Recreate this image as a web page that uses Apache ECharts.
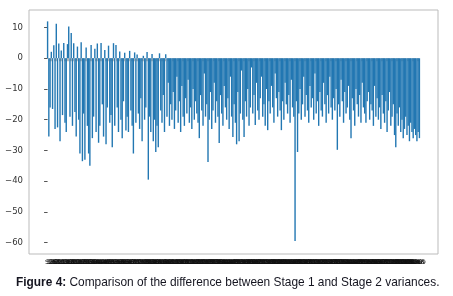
<!DOCTYPE html>
<html><head><meta charset="utf-8">
<script src="https://cdn.jsdelivr.net/npm/echarts@6/dist/echarts.min.js"></script>
<style>html,body{margin:0;padding:0;background:#fff}#c{width:453px;height:296px}</style>
</head><body><div id="c"></div>
<script>
const differences = [
 12, -25.5, -16, 2.1, -16.5, 4.2, -23, 11.2, -22.5, 4.8,
 -27, 2.5, -18.5, 5, -21, -24, 4.6, 10.3, -19, 8.2,
 -22, 4.9, -17.5, -25.5, 3.8, -20, -31, 5.2, -33.5, -18,
 -33, 3.5, -22, -31, -35, 4.3, -26, -19, 3.1, -24,
 4.8, -27.5, -22, 5, -15, -25.5, 2.7, -28, -16, 4.1,
 -21, -18.5, -29, 4.9, -22, 4.3, -16, -24, 2.2, -20,
 -26, -14, 1.8, -23.5, -19, -24, 2.4, -17, -22, -31,
 1.9, -21, 1.2, -18, -23, -13, -27, 0.8, -20, -16,
 2, -39.5, -19, -24, 1.4, -27, -20, -30.5, -22, -29,
 1.6, -17, -21, -12, -24, 1.3, -19, -8, -22, -15,
 -20, -11, -23, -17, -6, -21, -14, -24, -9, -19,
 -22, -13, -18, -7, -21, -16, -23, -10, -20, -14,
 -18, -21, -26, -12, -17, -22, -5, -19, -15, -33.8,
 -20, -11, -23, -17, -8, -21, -14, -19, -27.6, -12,
 -18, -22, -9, -16, -20, -13, -23, -6, -19, -25.6,
 -15, -21, -28, -11, -27, -18, -4, -20, -25.6, -14,
 -19, -10, -22, -16, -3, -18, -12, -21.7, -8, -17,
 -20, -13, -6, -19, -15, -22, -10, -23.4, -14, -18,
 -9, -16, -21, -5, -13, -19, -11, -17, -23.4, -14,
 -20, -8, -15, -18, -12, -21, -7, -16, -19, -59.5,
 -14, -30.5, -18, -10, -20, -15, -6, -19, -12, -17,
 -21, -9, -16, -13, -20, -5, -18, -14, -22, -11,
 -17, -19, -8, -15, -21, -12, -18, -6, -16, -20,
 -13, -17, -10, -29.8, -15, -19, -7, -14, -21, -11,
 -18, -16, -9, -20, -26, -13, -17, -22, -10, -15,
 -19, -12, -21, -8, -16, -18, -21, -14, -11, -20,
 -15, -17, -22, -9, -19, -13, -20, -16, -23, -12,
 -18, -21, -14, -24, -17, -11, -22, -19, -15, -25,
 -29, -18, -22, -16, -24, -20, -26, -23, -19, -25,
 -22, -27, -21, -24, -26, -23, -25, -27, -24, -26
];
const categories = differences.map((_, i) => 'S' + (i + 1));
const yTicks = [-60, -50, -40, -30, -20, -10, 0, 10];
const captionBold = 'Figure 4:';
const captionText = ' Comparison of the difference between Stage 1 and Stage 2 variances.';

const n = differences.length;
const idx = categories.map((_, i) => i);
const chart = echarts.init(document.getElementById('c'), null, {renderer: 'canvas'});
chart.setOption({
  animation: false,
  backgroundColor: '#fff',
  title: {
    text: '{b|' + captionBold + '}' + captionText,
    left: 11, top: 272,
    textStyle: {
      fontFamily: 'Liberation Sans', fontSize: 11.9, fontWeight: 'normal', color: '#151520',
      rich: { b: { fontFamily: 'Liberation Sans', fontSize: 11.9, fontWeight: 'bold', color: '#151520' } }
    }
  },
  grid: { left: 29, right: 15, top: 10, bottom: 42, show: true, borderColor: '#bbb', borderWidth: 1 },
  xAxis: {
    type: 'value',
    min: -0.05 * (n - 1), max: 1.05 * (n - 1),
    splitLine: { show: false },
    axisLine: { show: false },
    axisTick: { show: true, length: 3, lineStyle: { color: '#888', width: 0.6 }, customValues: idx },
    axisLabel: {
      show: true, customValues: idx, fontSize: 6, color: '#111', margin: 5,
      fontFamily: 'DejaVu Sans',
      formatter: v => categories[Math.round(v)] || ''
    }
  },
  yAxis: {
    type: 'value',
    min: -63.7, max: 15.7,
    splitLine: { show: false },
    axisLine: { show: false },
    axisTick: { show: true, length: 3.5, lineStyle: { color: '#555' }, customValues: yTicks },
    axisLabel: {
      customValues: yTicks, fontSize: 8.5, color: '#333', margin: 6, fontFamily: 'DejaVu Sans',
      formatter: v => v < 0 ? '\u2212' + Math.abs(v) : String(v)
    }
  },
  series: [{
    type: 'bar',
    data: differences.map((v, i) => [i, v]),
    barWidth: 1.4,
    itemStyle: { color: '#2277b2' }
  }]
});
</script></body></html>
